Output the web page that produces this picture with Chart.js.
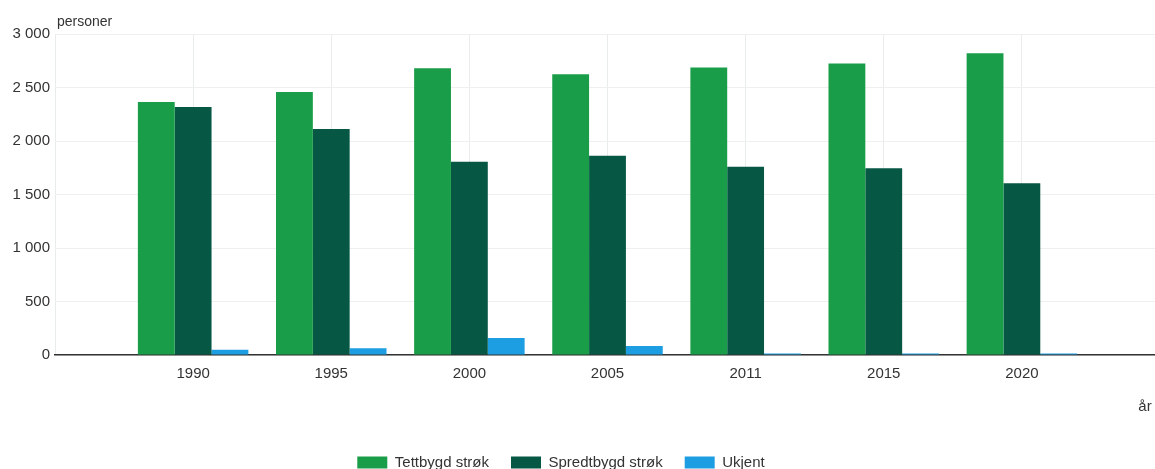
<!DOCTYPE html>
<html>
<head>
<meta charset="utf-8">
<script src="https://cdn.jsdelivr.net/npm/chart.js@4"></script>
<style>
  html, body { margin: 0; padding: 0; overflow: hidden; background: #fff; }
  canvas { display: block; }
</style>
</head>
<body>
<canvas id="chart" width="1170" height="490"></canvas>
<script>
// data
const years = ['1990', '1995', '2000', '2005', '2011', '2015', '2020'];
const tettbygd = [2365, 2457, 2680, 2624, 2687, 2724, 2819];
const spredtbygd = [2318, 2112, 1806, 1862, 1759, 1746, 1605];
const ukjent = [50, 62, 160, 85, 15, 15, 15];
const yTicks = [0, 500, 1000, 1500, 2000, 2500, 3000];

// an empty slot on each side, like the original
const labels = [''].concat(years, ['']);
const pad = arr => [null].concat(arr, [null]);

const fontFamily = '"Liberation Sans", Arial, sans-serif';
const textColor = '#333';

function formatNum(v) {
    return String(v).replace(/\B(?=(\d{3})+(?!\d))/g, ' ');
}

// unit label above the y axis, and legend nudged left to sit under the visible part
const extras = {
    id: 'extras',
    afterLayout(chart) {
        chart.legend.left -= 24;
        chart.legend.right -= 24;
    },
    afterDraw(chart) {
        const ctx = chart.ctx;
        const area = chart.chartArea;
        ctx.save();
        ctx.font = '14px ' + fontFamily;
        ctx.fillStyle = textColor;
        ctx.textAlign = 'left';
        ctx.textBaseline = 'middle';
        ctx.fillText('personer', area.left + 2, area.top - 12);
        ctx.restore();
    }
};

new Chart(document.getElementById('chart'), {
    type: 'bar',
    data: {
        labels: labels,
        datasets: [
            { label: 'Tettbygd strøk', data: pad(tettbygd), backgroundColor: '#1a9d49' },
            { label: 'Spredtbygd strøk', data: pad(spredtbygd), backgroundColor: '#075745' },
            { label: 'Ukjent', data: pad(ukjent), backgroundColor: '#1d9de2' }
        ]
    },
    options: {
        responsive: false,
        devicePixelRatio: 1,
        animation: false,
        layout: { padding: { top: 34, left: 0, right: 0, bottom: 10 } },
        datasets: { bar: { categoryPercentage: 0.8, barPercentage: 1.0, borderWidth: 0 } },
        scales: {
            x: {
                offset: false,
                grid: { color: '#e9ecec', drawTicks: false, offset: false },
                border: { color: '#333', width: 1.5 },
                ticks: { color: textColor, font: { family: fontFamily, size: 15 }, padding: 10, maxRotation: 0, autoSkip: false },
                title: {
                    display: true, text: 'år\u00a0\u00a0', align: 'end', color: textColor,
                    font: { family: fontFamily, size: 15 }, padding: { top: 5, bottom: 17 }
                }
            },
            y: {
                min: 0,
                max: 3000,
                afterBuildTicks(scale) { scale.ticks = yTicks.map(v => ({ value: v })); },
                afterFit(scale) { scale.width = 55; },
                grid: { color: '#eef0f0', drawTicks: false },
                border: { display: false },
                ticks: {
                    color: textColor, font: { family: fontFamily, size: 15 }, padding: 5,
                    callback: v => formatNum(v)
                }
            }
        },
        plugins: {
            legend: {
                position: 'bottom',
                labels: {
                    boxWidth: 30, boxHeight: 12, padding: 22, color: textColor,
                    font: { family: fontFamily, size: 15 }
                }
            },
            tooltip: { enabled: false }
        }
    },
    plugins: [extras]
});
</script>
</body>
</html>
